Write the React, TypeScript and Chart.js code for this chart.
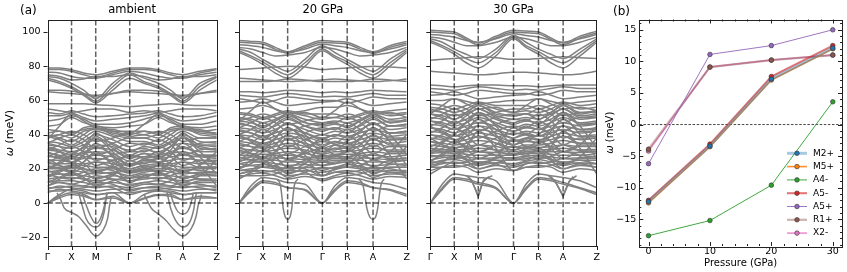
import React, { useEffect, useRef } from "react";
import { Chart, registerables } from "chart.js";
Chart.register(...registerables);

const FONT = "'DejaVu Sans', 'Liberation Sans', sans-serif";

// ---------- panel (a): phonon dispersions ----------
const HSP_LABELS = ["Γ", "X", "M", "Γ", "R", "A", "Z"];
const PATH_AMBIENT = [0, 0.142, 0.285, 0.486, 0.656, 0.799, 1];
const PATH_20 = [0, 0.142, 0.29, 0.497, 0.645, 0.799, 1];
const PATH_30 = [0, 0.144, 0.288, 0.5, 0.65, 0.798, 1];
// sample points along the path, in segment units (0 = Γ, 1 = X, 2 = M, 3 = Γ, 4 = R, 5 = A, 6 = Z)
const GRID = [0, 0.5, 1, 1.5, 2, 2.5, 3, 3.5, 4, 4.5, 5, 5.5, 6];
const OMEGA_TICKS = [-20, 0, 20, 40, 60, 80, 100];
const OMEGA_MIN = -25.1;
const OMEGA_MAX = 107;

const BANDS_AMBIENT = [
  [79, 79, 78, 76, 75, 77, 79, 79, 78, 76, 75, 77, 78.5],
  [78, 78, 77, 75, 73.5, 76, 78, 78, 77, 75, 73.5, 76, 78],
  [76.5, 76, 74, 73, 73, 75, 77, 76, 74, 73, 73, 75, 76.5],
  [75, 74, 72, 72.5, 74, 74, 75, 74, 72, 72.5, 74, 74, 75],
  [74, 73, 70, 66, 61, 70, 76, 73, 70, 66, 61, 70, 74],
  [73, 71, 68, 64, 59.5, 68, 75, 71, 68, 64, 59.5, 68, 73.5],
  [72, 70, 67, 63, 58.5, 66, 73, 70, 67, 63, 58.5, 66, 72],
  [66, 66, 65.5, 64, 62, 64, 66, 66, 65.5, 64, 62, 64, 66],
  [65, 64.5, 64, 63.5, 63, 64, 65, 64.5, 64, 63.5, 63, 64, 65],
  [58, 58, 58, 58, 57.5, 57, 56.5, 57, 57.5, 58, 57.5, 57, 57],
  [55, 54, 53, 54, 55, 55, 53, 54, 53, 54, 55, 55, 54],
  [53, 52, 54, 52, 50.5, 51, 52, 52.5, 54, 52, 50.5, 51, 53],
  [51, 51, 52.5, 50, 48, 49, 50, 51, 52.5, 50, 48, 49, 51],
  [48, 49, 51, 49, 46, 46, 47, 49, 51, 49, 46, 46, 48],
  [45, 46, 50, 47, 45, 44, 45, 46, 50, 47, 45, 44, 45],
  [37, 45, 52, 48, 44, 43, 41, 46, 52, 48, 44, 43, 40],
  [41, 42, 40, 44, 45, 42, 40, 42, 40, 44, 45, 42, 41],
  [40, 38, 36, 40, 44, 40, 38, 38, 36, 40, 44, 40, 39],
  [39, 37, 34, 38, 42, 39, 36, 36, 34, 38, 42, 38, 38],
  [36, 35, 33, 36, 40, 37, 33, 35, 33, 36, 40, 36, 35],
  [34, 33, 32, 34, 37, 35, 30, 33, 32, 35, 38, 34, 33],
  [33, 31, 30, 32, 34, 33, 28, 31, 30, 33, 35, 33, 31],
  [31, 30, 28, 30, 32, 31, 26, 29, 28, 30, 32, 30, 30],
  [29, 28, 27, 29, 30, 29, 24.5, 27, 27, 29, 30, 28, 28],
  [27, 27, 26, 27, 28, 27, 23, 25, 26, 27, 28, 27, 26],
  [25, 25, 24, 26, 26, 25, 21.5, 24, 24, 25, 26, 25, 24],
  [23, 23, 23, 23, 24, 23, 20, 22, 23, 23, 24, 23, 23],
  [21, 21, 22, 22, 21, 21, 19, 21, 22, 22, 21, 21, 21],
  [20, 20, 21, 20, 19, 20, 17.5, 19, 20, 20, 19, 20, 20],
  [18, 19, 19, 18, 17, 18, 16, 18, 19, 18, 17, 18, 18],
  [16, 17, 17, 16, 15, 16, 14.5, 16, 17, 16, 15, 16, 16],
  [14, 15, 15, 14, 13, 14, 13, 14, 15, 14, 13, 14, 14],
  [12, 13, 13, 12, 11, 12, 11, 12, 13, 12, 11, 12, 12],
  [10, 12, 11, 10, 9, 10, 9, 11, 11, 10, 9, 10, 10],
  [8, 10, 9, 8, 7, 8, 8, 9, 9, 8, 7, 8, 8],
  [6, 8, 7, 6, 5, 6, 6, 7, 7, 6, 5, 6, 6],
  [0, 4, 6, 5, 2, 4, 0, 3, 5, 5, 2, 4, 3],
  [0, 3, 5, 4, 2, 3, 0, 2.5, 4.5, 4, 2, 3, 3],
  [0, 5, 8, 7, 5, 6, 0, 5, 7, 7, 5, 6, 6],
  [20, 24, 28, 33, 38, 30, 22, 26, 28, 33, 38, 30, 22],
  [15, 18, 22, 28, 35, 27, 18, 20, 22, 28, 35, 27, 17],
  [30, 27, 24, 20, 18, 22, 28, 26, 24, 20, 18, 22, 30],
  [26, 22, 18, 14, 12, 16, 25, 21, 18, 14, 12, 16, 25],
  [10, 14, 18, 24, 30, 22, 12, 16, 18, 24, 30, 22, 10],
  [35, 33, 29, 33, 41, 34, 31, 32, 29, 33, 41, 34, 34],
  [32, 30, 26, 31, 39, 32, 27, 29, 26, 31, 39, 32, 31],
  [28, 26, 24, 28, 33, 28, 22, 25, 24, 28, 33, 28, 27],
  [24, 22, 20, 24, 29, 24, 20, 22, 20, 24, 29, 24, 23],
  [22, 20, 18, 21, 24, 21, 18, 20, 18, 21, 24, 21, 21],
  [19, 17, 16, 18, 20, 19, 15, 17, 16, 18, 20, 19, 18],
  [17, 15, 14, 16, 18, 17, 13, 15, 14, 16, 18, 17, 16],
  [13, 12, 11, 13, 16, 14, 10, 12, 11, 13, 16, 14, 13],
  [9, 9, 10, 10, 12, 11, 7, 9, 10, 10, 12, 11, 9],
  [7, 7, 8, 9, 10, 9, 5, 7, 8, 9, 10, 9, 7],
  [38, 40, 42, 40, 36, 38, 41, 40, 42, 40, 36, 38, 38],
  [35, 38, 40, 37, 32, 35, 38, 38, 40, 37, 32, 35, 36],
  [31, 34, 37, 34, 28, 31, 35, 34, 37, 34, 28, 31, 32],
  [27, 30, 33, 30, 25, 28, 30, 30, 33, 30, 25, 28, 28],
  [24, 27, 30, 27, 22, 25, 27, 27, 30, 27, 22, 25, 25],
  [20, 23, 26, 23, 18, 21, 23, 23, 26, 23, 18, 21, 21],
  [16, 19, 22, 19, 14, 17, 19, 19, 22, 19, 14, 17, 17],
  [12, 15, 18, 15, 10, 13, 15, 15, 18, 15, 10, 13, 13],
  [43, 42, 41, 43, 44, 42, 42, 42, 41, 43, 44, 42, 43],
  [39, 40, 38, 42, 43, 41, 39, 40, 38, 42, 43, 41, 40],
];
const SOFT_AMBIENT = [
  { s: [0.4, 0.55, 0.7, 1.0, 1.3, 1.6, 2.0, 2.21, 2.35, 2.41, 2.46], v: [6, 2, -3, -5.5, -8, -13, -19.3, -16, -9, -1, 4] },
  { s: [1.3, 1.35, 1.45, 1.6, 1.8, 2.0, 2.14, 2.25, 2.3, 2.34], v: [6, 3, -2, -9, -13, -14, -12, -5, 2, 6] },
  { s: [1.45, 1.5, 1.6, 1.8, 2.0, 2.14, 2.25, 2.3, 2.33], v: [6, 3, -1, -8, -12, -9, -2, 3, 6] },
  { s: [3.5, 3.62, 3.75, 4.0, 4.3, 4.6, 5.0, 5.25, 5.39, 5.46, 5.51, 5.55], v: [5, 1, -3, -6.5, -10, -15, -19.3, -15, -8, -1, 2, 5] },
  { s: [4.35, 4.4, 4.5, 4.7, 5.0, 5.21, 5.32, 5.37, 5.4], v: [6, 3, -3, -10, -14, -11, -4, 2, 6] },
  { s: [4.5, 4.55, 4.65, 4.8, 5.0, 5.14, 5.23, 5.28, 5.31], v: [6, 3, -1, -5, -6.5, -5, -1, 3, 6] },
];

const BANDS_20 = [
  [95, 94.5, 94, 91, 88.5, 92, 95, 94.5, 94, 91, 88.5, 92, 94.5],
  [94, 93.5, 93, 90, 87.5, 91, 94, 93.5, 93, 90, 87.5, 91, 93.5],
  [92.5, 92, 91, 89, 88, 90, 93, 92, 91, 89, 88, 90, 92.5],
  [91, 90, 88, 86, 86.5, 88, 91, 90, 88, 86, 86.5, 88, 91],
  [90, 88, 84, 80, 77, 84, 92, 88, 84, 80, 77, 84, 90],
  [89, 86, 82.5, 78, 75, 82, 90, 86, 82.5, 78, 75, 82, 89],
  [88, 85, 81, 76, 73, 80, 89, 85, 81, 76, 73, 80, 88],
  [78, 78.5, 79, 79.5, 80, 79.5, 78, 78.5, 79, 79.5, 80, 79.5, 79],
  [73, 72.5, 72, 71.5, 71, 71.5, 72, 72.5, 72, 71.5, 71, 71.5, 72.5],
  [71, 71, 71, 71.5, 72.5, 72, 71, 71, 71, 71.5, 72.5, 72, 71],
  [65, 65, 64.5, 65, 66, 65.5, 64.5, 65, 64.5, 65, 66, 65.5, 65],
  [63, 62.5, 62, 63, 64, 63, 62, 62.5, 62, 63, 64, 63, 63],
  [61, 60, 58.5, 60, 62, 61, 60, 60, 58.5, 60, 62, 61, 61],
  [59, 59.5, 61, 59, 57, 58, 59, 59.5, 61, 59, 57, 58, 59],
  [48, 54, 59, 55, 52, 53, 50, 54, 59, 55, 52, 53, 50],
  [55, 55.5, 57, 55, 53, 54, 56, 56, 57, 55, 53, 54, 55],
  [52, 51, 49, 51, 53, 51, 49, 50, 49, 51, 53, 51, 52],
  [50, 49, 47, 49, 52, 49, 47, 48, 47, 49, 52, 49, 50],
  [48, 47, 45, 48, 51, 47, 45, 46, 45, 48, 51, 47, 48],
  [46, 45, 43, 45, 49, 45, 43, 44, 43, 45, 49, 45, 46],
  [44, 43, 41, 43, 46, 43, 40, 42, 41, 43, 46, 43, 44],
  [42, 41, 39, 41, 43, 41, 38, 40, 39, 41, 43, 41, 42],
  [40, 39, 37, 39, 41, 39, 36, 38, 37, 39, 41, 39, 40],
  [38, 37, 35, 37, 39, 37, 34, 36, 35, 37, 39, 37, 38],
  [36, 35, 33, 35, 37, 35, 32, 34, 33, 35, 37, 35, 36],
  [34, 33, 32, 33, 35, 33, 30, 32, 32, 33, 35, 33, 33],
  [32, 31, 30, 31, 32, 31, 28.5, 30, 30, 31, 32, 31, 31],
  [30, 29, 28.5, 29, 30, 29, 27, 28.5, 28.5, 29, 30, 29, 29],
  [28, 28, 27, 28, 28, 27, 26, 27, 27, 28, 28, 27, 28],
  [26.5, 27, 26, 26.5, 26, 25.5, 25, 26, 26, 26.5, 26, 25.5, 26.5],
  [25, 25.5, 25, 25, 24, 24, 24, 25, 25, 25, 24, 24, 25],
  [23, 24, 24, 23, 22, 22.5, 22, 23, 24, 23, 22, 22.5, 23],
  [21, 22, 22.5, 21.5, 20, 21, 20, 21, 22.5, 21.5, 20, 21, 21],
  [19, 20, 21, 20, 18, 19, 18, 19.5, 21, 20, 18, 19, 19],
  [17, 18.5, 19, 18, 16, 17, 16, 18, 19, 18, 16, 17, 17],
  [15, 17, 17.5, 16, 14, 15.5, 14, 16, 17.5, 16, 14, 15.5, 15],
  [0, 8, 13, 12, 9, 8, 0, 8, 13, 12, 9, 8, 5],
  [0, 7, 12, 11, 9, 7.5, 0, 7, 12, 11, 9, 7.5, 4],
  [0, 10, 15, 14, 12, 11, 0, 10, 15, 14, 12, 11, 8],
  [25, 30, 36, 42, 47, 40, 30, 34, 36, 42, 47, 40, 28],
  [20, 25, 30, 38, 44, 36, 24, 28, 30, 38, 44, 36, 22],
  [40, 36, 32, 28, 26, 30, 38, 34, 32, 28, 26, 30, 40],
  [33, 29, 25, 21, 19, 23, 32, 28, 25, 21, 19, 23, 33],
  [14, 18, 22, 30, 38, 28, 16, 20, 22, 30, 38, 28, 14],
  [50, 48, 44, 48, 52, 47, 46, 47, 44, 48, 52, 47, 49],
  [47, 45, 41, 46, 50, 45, 42, 44, 41, 46, 50, 45, 46],
  [43, 41, 38, 42, 47, 41, 37, 40, 38, 42, 47, 41, 42],
  [39, 37, 34, 38, 44, 38, 33, 36, 34, 38, 44, 38, 38],
  [35, 33, 30, 34, 40, 34, 29, 32, 30, 34, 40, 34, 34],
  [31, 29, 27, 30, 34, 30, 26, 28, 27, 30, 34, 30, 30],
  [27, 25, 24, 26, 29, 26, 22, 24, 24, 26, 29, 26, 26],
  [23, 22, 21, 22, 25, 23, 19, 21, 21, 22, 25, 23, 22],
  [19, 19, 18, 19, 21, 20, 16, 18, 18, 19, 21, 20, 18],
  [16, 16, 16, 17, 19, 18, 13, 15, 16, 17, 19, 18, 16],
  [48, 50, 52, 50, 46, 48, 50, 50, 52, 50, 46, 48, 48],
  [44, 47, 50, 47, 42, 45, 47, 47, 50, 47, 42, 45, 45],
  [40, 43, 47, 43, 37, 41, 44, 43, 47, 43, 37, 41, 41],
  [36, 39, 43, 39, 33, 37, 40, 39, 43, 39, 33, 37, 37],
  [32, 35, 39, 35, 29, 33, 36, 35, 39, 35, 29, 33, 33],
  [28, 31, 35, 31, 25, 29, 32, 31, 35, 31, 25, 29, 29],
  [24, 27, 31, 27, 21, 25, 28, 27, 31, 27, 21, 25, 25],
  [20, 23, 27, 23, 17, 21, 24, 23, 27, 23, 17, 21, 21],
  [53, 52, 50, 52, 54, 52, 52, 52, 50, 52, 54, 52, 53],
  [17, 19, 23, 20, 15, 18, 21, 20, 23, 20, 15, 18, 18],
];
const SOFT_20 = [
  { s: [1.55, 1.7, 1.76, 1.82, 1.9, 2.0, 2.07, 2.12, 2.16, 2.2, 2.3], v: [14, 11, 5, -3, -8, -9.5, -8, -3, 5, 11, 14] },
  { s: [4.45, 4.6, 4.68, 4.76, 4.87, 5.0, 5.08, 5.14, 5.19, 5.24, 5.33], v: [14, 11, 5, -3, -8, -9.5, -8, -3, 5, 11, 14] },
];

const BANDS_30 = [
  [101, 100.5, 100, 96.5, 93.5, 97.5, 101, 100.5, 100, 96.5, 93.5, 97.5, 100.5],
  [100, 99.5, 99, 95.5, 92.5, 96.5, 100, 99.5, 99, 95.5, 92.5, 96.5, 99.5],
  [98.5, 98, 97, 95, 94, 96, 99, 98, 97, 95, 94, 96, 98.5],
  [97, 96, 94, 92, 92, 94, 97, 96, 94, 92, 92, 94, 97],
  [96, 94, 90, 87, 84.5, 90, 98, 94, 90, 87, 84.5, 90, 96],
  [95, 92, 88.5, 84.5, 82, 88, 97, 92, 88.5, 84.5, 82, 88, 95],
  [94, 91, 87, 82, 79, 86, 96, 91, 87, 82, 79, 86, 94],
  [83.5, 84, 84.5, 85, 85.5, 85, 84, 84, 84.5, 85, 85.5, 85, 84.5],
  [77, 76.5, 76, 75.5, 75, 75.5, 76.5, 76.5, 76, 75.5, 75, 75.5, 77],
  [69, 68.5, 68, 68.5, 69, 69, 68.5, 68.5, 68, 68.5, 69, 69, 69],
  [67, 66.5, 66, 67, 68, 67, 66, 66.5, 66, 67, 68, 67, 67],
  [65, 64, 63, 64, 66, 65, 64, 64, 63, 64, 66, 65, 65],
  [63, 63.5, 65, 63, 61, 62, 63, 63.5, 65, 63, 61, 62, 63],
  [52, 57, 61, 58, 55, 56, 53, 57, 61, 58, 55, 56, 54],
  [60, 60, 61, 59.5, 58, 59, 60, 60, 61, 59.5, 58, 59, 60],
  [56, 55, 53, 55, 58, 55, 53, 54, 53, 55, 58, 55, 56],
  [54, 53, 51, 53, 57, 53, 51, 52, 51, 53, 57, 53, 54],
  [52, 51, 49, 52, 55, 51, 49, 50, 49, 52, 55, 51, 52],
  [50, 49, 47, 49, 53, 49, 46, 48, 47, 49, 53, 49, 50],
  [48, 47, 45, 47, 50, 47, 44, 46, 45, 47, 50, 47, 48],
  [46, 45, 43, 45, 47, 45, 42, 44, 43, 45, 47, 45, 46],
  [44, 43, 41, 43, 45, 43, 40, 42, 41, 43, 45, 43, 44],
  [42, 41, 39, 41, 43, 41, 38, 40, 39, 41, 43, 41, 42],
  [40, 39, 37, 39, 41, 39, 36, 38, 37, 39, 41, 39, 40],
  [38, 37, 35.5, 37, 39, 37, 34, 36, 35.5, 37, 39, 37, 38],
  [36, 35, 34, 35, 36.5, 35, 32.5, 34, 34, 35, 36.5, 35, 35],
  [34, 33, 32.5, 33, 34, 33, 31, 32.5, 32.5, 33, 34, 33, 33],
  [32, 31.5, 31, 31.5, 32, 31, 30, 31, 31, 31.5, 32, 31, 31.5],
  [30.5, 30.5, 30, 30, 30, 29.5, 29, 30, 30, 30, 30, 29.5, 30],
  [29, 29.5, 29, 28.5, 28, 28, 28, 29, 29, 28.5, 28, 28, 29],
  [27, 28, 28, 27, 26, 26.5, 26.5, 27.5, 28, 27, 26, 26.5, 27],
  [25, 26.5, 27, 25.5, 24, 25, 25, 26, 27, 25.5, 24, 25, 25],
  [23, 25, 25.5, 24, 22, 23.5, 23, 24.5, 25.5, 24, 22, 23.5, 23],
  [21, 23, 24, 22.5, 20, 22, 21, 23, 24, 22.5, 20, 22, 21],
  [19, 21, 22, 21, 18, 20, 19, 21, 22, 21, 18, 20, 19],
  [0, 9, 15, 14, 12, 9, 0, 9, 15, 14, 12, 9, 6],
  [0, 8, 14, 13, 11, 8.5, 0, 8, 14, 13, 11, 8.5, 5],
  [0, 11, 17, 16, 15, 13, 0, 11, 17, 16, 15, 13, 9],
  [30, 35, 40, 47, 53, 45, 34, 38, 40, 47, 53, 45, 32],
  [24, 29, 34, 42, 49, 40, 28, 32, 34, 42, 49, 40, 26],
  [45, 41, 37, 33, 30, 34, 44, 40, 37, 33, 30, 34, 45],
  [38, 34, 30, 26, 23, 27, 37, 33, 30, 26, 23, 27, 38],
  [17, 21, 25, 33, 42, 32, 19, 23, 25, 33, 42, 32, 17],
  [55, 53, 49, 53, 57, 52, 51, 52, 49, 53, 57, 52, 54],
  [52, 50, 46, 51, 55, 50, 47, 49, 46, 51, 55, 50, 51],
  [48, 46, 43, 47, 52, 46, 42, 45, 43, 47, 52, 46, 47],
  [44, 42, 39, 43, 49, 43, 38, 41, 39, 43, 49, 43, 43],
  [40, 38, 35, 39, 45, 39, 34, 37, 35, 39, 45, 39, 39],
  [36, 34, 32, 35, 39, 35, 31, 33, 32, 35, 39, 35, 35],
  [32, 30, 29, 31, 34, 31, 28, 30, 29, 31, 34, 31, 31],
  [28, 27, 26, 27, 30, 28, 25, 27, 26, 27, 30, 28, 27],
  [24, 24, 23, 24, 26, 25, 22, 24, 23, 24, 26, 25, 23],
  [21, 21, 21, 22, 24, 23, 19, 21, 21, 22, 24, 23, 21],
  [53, 55, 57, 55, 51, 53, 55, 55, 57, 55, 51, 53, 53],
  [49, 52, 55, 52, 47, 50, 52, 52, 55, 52, 47, 50, 50],
  [45, 48, 52, 48, 42, 46, 49, 48, 52, 48, 42, 46, 46],
  [41, 44, 48, 44, 38, 42, 45, 44, 48, 44, 38, 42, 42],
  [37, 40, 44, 40, 34, 38, 41, 40, 44, 40, 34, 38, 38],
  [33, 36, 40, 36, 30, 34, 37, 36, 40, 36, 30, 34, 34],
  [29, 32, 36, 32, 26, 30, 33, 32, 36, 32, 26, 30, 30],
  [25, 28, 32, 28, 22, 26, 29, 28, 32, 28, 22, 26, 26],
  [58, 57, 55, 57, 59, 57, 57, 57, 55, 57, 59, 57, 58],
  [22, 24, 28, 25, 20, 23, 26, 25, 28, 25, 20, 23, 23],
];
const SOFT_30 = [
  { s: [1.5, 1.72, 2.0, 2.15, 2.4], v: [16, 13.5, 3.7, 13.5, 16], sharp: true },
  { s: [1.6, 1.76, 2.0, 2.12, 2.3], v: [15.5, 12, 4.5, 12, 15.5], sharp: true },
  { s: [4.4, 4.67, 5.0, 5.19, 5.4], v: [16, 13, 3.7, 13, 16], sharp: true },
  { s: [4.5, 4.7, 5.0, 5.16, 5.3], v: [15.5, 12, 4.5, 12, 15.5], sharp: true },
];

// ---------- panel (b): soft-mode frequencies vs pressure ----------
const PRESSURES = [0, 10, 20, 30];
const MODE_LABELS = ["M2+", "M5+", "A4-", "A5-", "A5+", "R1+", "X2-"];
const M2_PLUS = [-12.2, -3.4, 7.2, 12.1];
const M5_PLUS = [-12.4, -3.5, 7.06, 12.0];
const A4_MINUS = [-17.6, -15.2, -9.6, 3.6];
const A5_MINUS = [-12.0, -3.1, 7.6, 12.5];
const A5_PLUS = [-6.2, 11.1, 12.5, 15.0];
const R1_PLUS = [-3.9, 9.1, 10.2, 11.0];
const X2_MINUS = [-4.2, 9.1, 10.2, 11.0];
const PRESSURE_TICKS = [0, 10, 20, 30];
const SHIFT_TICKS = [-15, -10, -5, 0, 5, 10, 15];

const MODE_SERIES = [M2_PLUS, M5_PLUS, A4_MINUS, A5_MINUS, A5_PLUS, R1_PLUS, X2_MINUS];
const MODE_LINE = [
  "rgba(31,119,180,0.4)",
  "rgba(255,127,14,0.85)",
  "rgba(44,160,44,0.9)",
  "rgba(214,39,40,0.65)",
  "rgba(148,103,189,0.9)",
  "rgba(140,86,75,0.45)",
  "rgba(227,119,194,0.85)",
];
const MODE_FILL = ["#1f77b4", "#ff7f0e", "#2ca02c", "#d62728", "#9467bd", "#8c564b", "#e377c2"];
const MODE_WIDTH = [3, 1.6, 1, 2, 1, 2.2, 1.5];

const fmt = (v: number) => (v < 0 ? "\u2212" + Math.abs(v) : String(v));

function toK(s: number, path: number[]) {
  const i = Math.min(Math.floor(s), path.length - 2);
  const f = s - i;
  return path[i] + f * (path[i + 1] - path[i]);
}

function seg(ctx: CanvasRenderingContext2D, x1: number, y1: number, x2: number, y2: number) {
  ctx.beginPath();
  ctx.moveTo(x1, y1);
  ctx.lineTo(x2, y2);
  ctx.stroke();
}

function drawOmegaLabel(ctx: CanvasRenderingContext2D, cx: number, cy: number, size: number) {
  ctx.save();
  ctx.translate(cx, cy);
  ctx.rotate(-Math.PI / 2);
  ctx.textBaseline = "middle";
  ctx.fillStyle = "#000";
  ctx.font = `italic ${size}px ${FONT}`;
  const w1 = ctx.measureText("ω").width;
  ctx.font = `${size}px ${FONT}`;
  const rest = " (meV)";
  const w2 = ctx.measureText(rest).width;
  const start = -(w1 + w2) / 2;
  ctx.textAlign = "left";
  ctx.font = `italic ${size}px ${FONT}`;
  ctx.fillText("ω", start, 0);
  ctx.font = `${size}px ${FONT}`;
  ctx.fillText(rest, start + w1, 0);
  ctx.restore();
}

type Soft = { s: number[]; v: number[]; sharp?: boolean };

function BandPanel(props: {
  left: number;
  width: number;
  areaLeft: number;
  areaRight: number;
  path: number[];
  bands: number[][];
  soft: Soft[];
  title: string;
  letter?: string;
  showY: boolean;
}) {
  const ref = useRef<HTMLCanvasElement>(null);
  useEffect(() => {
    const { path, bands, soft, title, letter, showY, width, areaLeft, areaRight } = props;
    const style = {
      borderColor: "#808080",
      borderWidth: 1.5,
      pointRadius: 0,
      fill: false,
    };
    const datasets: any[] = [
      ...bands.map((b) => ({
        ...style,
        cubicInterpolationMode: "monotone",
        data: GRID.map((s, j) => ({ x: toK(s, path), y: b[j] })),
      })),
      ...soft.map((sm) => ({
        ...style,
        cubicInterpolationMode: sm.sharp ? "default" : "monotone",
        tension: 0,
        data: sm.s.map((s, j) => ({ x: toK(s, path), y: sm.v[j] })),
      })),
    ];
    const deco = {
      id: "deco",
      afterDraw(chart: any) {
        const { ctx, chartArea: a, scales } = chart;
        const x = scales.x;
        const y = scales.y;
        ctx.save();
        ctx.strokeStyle = "rgba(0,0,0,0.62)";
        ctx.lineWidth = 1.5;
        ctx.setLineDash([5.5, 2.4]);
        path.slice(1, -1).forEach((k) => {
          const px = x.getPixelForValue(k);
          seg(ctx, px, a.top, px, a.bottom);
        });
        const p0 = y.getPixelForValue(0);
        seg(ctx, a.left, p0, a.right, p0);
        ctx.setLineDash([]);
        ctx.strokeStyle = "#222";
        ctx.lineWidth = 1;
        ctx.strokeRect(Math.round(a.left) + 0.5, Math.round(a.top) + 0.5, Math.round(a.right - a.left), Math.round(a.bottom - a.top));
        OMEGA_TICKS.forEach((v) => {
          const py = Math.round(y.getPixelForValue(v)) + 0.5;
          seg(ctx, a.left - 4, py, a.left, py);
        });
        path.forEach((k) => {
          const px = Math.round(x.getPixelForValue(k)) + 0.5;
          seg(ctx, px, a.bottom, px, a.bottom + 4);
        });
        ctx.fillStyle = "#000";
        ctx.font = `11.5px ${FONT}`;
        ctx.textAlign = "center";
        ctx.textBaseline = "middle";
        ctx.fillText(title, (a.left + a.right) / 2, 10);
        if (letter) {
          ctx.textAlign = "left";
          ctx.font = `12px ${FONT}`;
          ctx.fillText(letter, 20, 11);
        }
        if (showY) drawOmegaLabel(ctx, 10, (a.top + a.bottom) / 2, 11);
        ctx.restore();
      },
    };
    const chart = new Chart(ref.current as HTMLCanvasElement, {
      type: "line",
      data: { datasets },
      options: {
        animation: false,
        responsive: false,
        devicePixelRatio: 1,
        events: [],
        layout: { padding: { top: 20, right: width - areaRight, left: 0, bottom: 0 } },
        plugins: { legend: { display: false }, tooltip: { enabled: false } },
        scales: {
          x: {
            type: "linear",
            min: 0,
            max: 1,
            grid: { display: false, drawTicks: false },
            border: { display: false },
            afterBuildTicks: (s: any) => {
              s.ticks = path.map((v) => ({ value: v }));
            },
            afterFit: (s: any) => {
              s.height = 26;
            },
            ticks: {
              autoSkip: false,
              maxRotation: 0,
              padding: 6,
              color: "#000",
              font: { size: 9.5, family: FONT },
              callback: (_v: any, i: number) => HSP_LABELS[i],
            },
          },
          y: {
            type: "linear",
            min: OMEGA_MIN,
            max: OMEGA_MAX,
            grid: { display: false, drawTicks: false },
            border: { display: false },
            afterBuildTicks: (s: any) => {
              s.ticks = OMEGA_TICKS.map((v) => ({ value: v }));
            },
            afterFit: (s: any) => {
              s.width = areaLeft;
            },
            ticks: {
              display: showY,
              padding: 7,
              color: "#000",
              font: { size: 9.5, family: FONT },
              callback: (v: any) => fmt(Number(v)),
            },
          },
        },
      } as any,
      plugins: [deco],
    });
    return () => chart.destroy();
  }, []);
  return (
    <canvas
      ref={ref}
      width={props.width}
      height={272}
      style={{ position: "absolute", left: props.left, top: 0, width: props.width, height: 272 }}
    />
  );
}

function PressurePanel(props: { left: number; width: number; areaLeft: number; areaRight: number }) {
  const ref = useRef<HTMLCanvasElement>(null);
  useEffect(() => {
    const { width, areaLeft, areaRight } = props;
    const datasets: any[] = MODE_SERIES.map((ser, i) => ({
      label: MODE_LABELS[i],
      data: PRESSURES.map((p, j) => ({ x: p, y: ser[j] })),
      borderColor: MODE_LINE[i],
      borderWidth: MODE_WIDTH[i],
      pointRadius: 2.3,
      pointBackgroundColor: MODE_FILL[i],
      pointBorderColor: "#333",
      pointBorderWidth: 0.6,
      tension: 0,
      fill: false,
    }));
    const deco = {
      id: "deco4",
      beforeDatasetsDraw(chart: any) {
        const { ctx, chartArea: a, scales } = chart;
        const p0 = scales.y.getPixelForValue(0);
        ctx.save();
        ctx.strokeStyle = "#333";
        ctx.lineWidth = 0.9;
        ctx.setLineDash([2.5, 1.6]);
        seg(ctx, a.left, p0, a.right, p0);
        ctx.restore();
      },
      afterDraw(chart: any) {
        const { ctx, chartArea: a, scales } = chart;
        const x = scales.x;
        const y = scales.y;
        ctx.save();
        ctx.strokeStyle = "#222";
        ctx.lineWidth = 1;
        ctx.strokeRect(Math.round(a.left) + 0.5, Math.round(a.top) + 0.5, Math.round(a.right - a.left), Math.round(a.bottom - a.top));
        for (let v = -19; v <= 16; v++) {
          const major = v % 5 === 0;
          const len = major ? 4 : 2;
          const py = Math.round(y.getPixelForValue(v)) + 0.5;
          seg(ctx, a.left, py, a.left + len, py);
          seg(ctx, a.right - len, py, a.right, py);
        }
        for (let v = 0; v <= 30; v += 2) {
          const major = v % 10 === 0;
          const len = major ? 4 : 2;
          const px = Math.round(x.getPixelForValue(v)) + 0.5;
          seg(ctx, px, a.bottom - len, px, a.bottom);
          seg(ctx, px, a.top, px, a.top + len);
        }
        const x0 = a.right - 55;
        const x1 = a.right - 35;
        const tx = a.right - 29;
        const y0 = a.bottom - 92.7;
        ctx.font = `9px ${FONT}`;
        ctx.textAlign = "left";
        ctx.textBaseline = "middle";
        chart.data.datasets.forEach((ds: any, i: number) => {
          const ly = y0 + i * 13.3;
          ctx.strokeStyle = ds.borderColor;
          ctx.lineWidth = ds.borderWidth;
          seg(ctx, x0, ly, x1, ly);
          ctx.beginPath();
          ctx.arc((x0 + x1) / 2, ly, 2.3, 0, Math.PI * 2);
          ctx.fillStyle = ds.pointBackgroundColor;
          ctx.fill();
          ctx.lineWidth = 0.6;
          ctx.strokeStyle = "#333";
          ctx.stroke();
          ctx.fillStyle = "#000";
          ctx.fillText(ds.label, tx, ly);
        });
        ctx.fillStyle = "#000";
        ctx.font = `12px ${FONT}`;
        ctx.fillText("(b)", 13, 12);
        ctx.font = `10px ${FONT}`;
        ctx.textAlign = "center";
        ctx.fillText("Pressure (GPa)", (a.left + a.right) / 2, 263.5);
        drawOmegaLabel(ctx, 10, (a.top + a.bottom) / 2, 10);
        ctx.restore();
      },
    };
    const chart = new Chart(ref.current as HTMLCanvasElement, {
      type: "line",
      data: { datasets },
      options: {
        animation: false,
        responsive: false,
        devicePixelRatio: 1,
        events: [],
        layout: { padding: { top: 19.5, right: width - areaRight, left: 0, bottom: 0 } },
        plugins: { legend: { display: false }, tooltip: { enabled: false } },
        scales: {
          x: {
            type: "linear",
            min: -1.5,
            max: 31.5,
            grid: { display: false, drawTicks: false },
            border: { display: false },
            afterBuildTicks: (s: any) => {
              s.ticks = PRESSURE_TICKS.map((v) => ({ value: v }));
            },
            afterFit: (s: any) => {
              s.height = 26;
            },
            ticks: {
              autoSkip: false,
              maxRotation: 0,
              padding: 0,
              color: "#000",
              font: { size: 9.5, family: FONT },
              callback: (v: any) => fmt(Number(v)),
            },
          },
          y: {
            type: "linear",
            min: -19.23,
            max: 16.63,
            grid: { display: false, drawTicks: false },
            border: { display: false },
            afterBuildTicks: (s: any) => {
              s.ticks = SHIFT_TICKS.map((v) => ({ value: v }));
            },
            afterFit: (s: any) => {
              s.width = areaLeft;
            },
            ticks: {
              padding: 3,
              color: "#000",
              font: { size: 9.5, family: FONT },
              callback: (v: any) => fmt(Number(v)),
            },
          },
        },
      } as any,
      plugins: [deco],
    });
    return () => chart.destroy();
  }, []);
  return (
    <canvas
      ref={ref}
      width={props.width}
      height={272}
      style={{ position: "absolute", left: props.left, top: 0, width: props.width, height: 272 }}
    />
  );
}

export default function App() {
  return (
    <div style={{ position: "fixed", left: 0, top: 0, width: 847, height: 272, background: "#fff", overflow: "hidden" }}>
      <BandPanel left={0} width={226} areaLeft={47.5} areaRight={221.7} path={PATH_AMBIENT} bands={BANDS_AMBIENT} soft={SOFT_AMBIENT} title="ambient" letter="(a)" showY={true} />
      <BandPanel left={226} width={190} areaLeft={13} areaRight={186.7} path={PATH_20} bands={BANDS_20} soft={SOFT_20} title="20 GPa" showY={false} />
      <BandPanel left={416} width={190} areaLeft={14.3} areaRight={187.7} path={PATH_30} bands={BANDS_30} soft={SOFT_30} title="30 GPa" showY={false} />
      <PressurePanel left={600} width={247} areaLeft={39.3} areaRight={242} />
    </div>
  );
}
